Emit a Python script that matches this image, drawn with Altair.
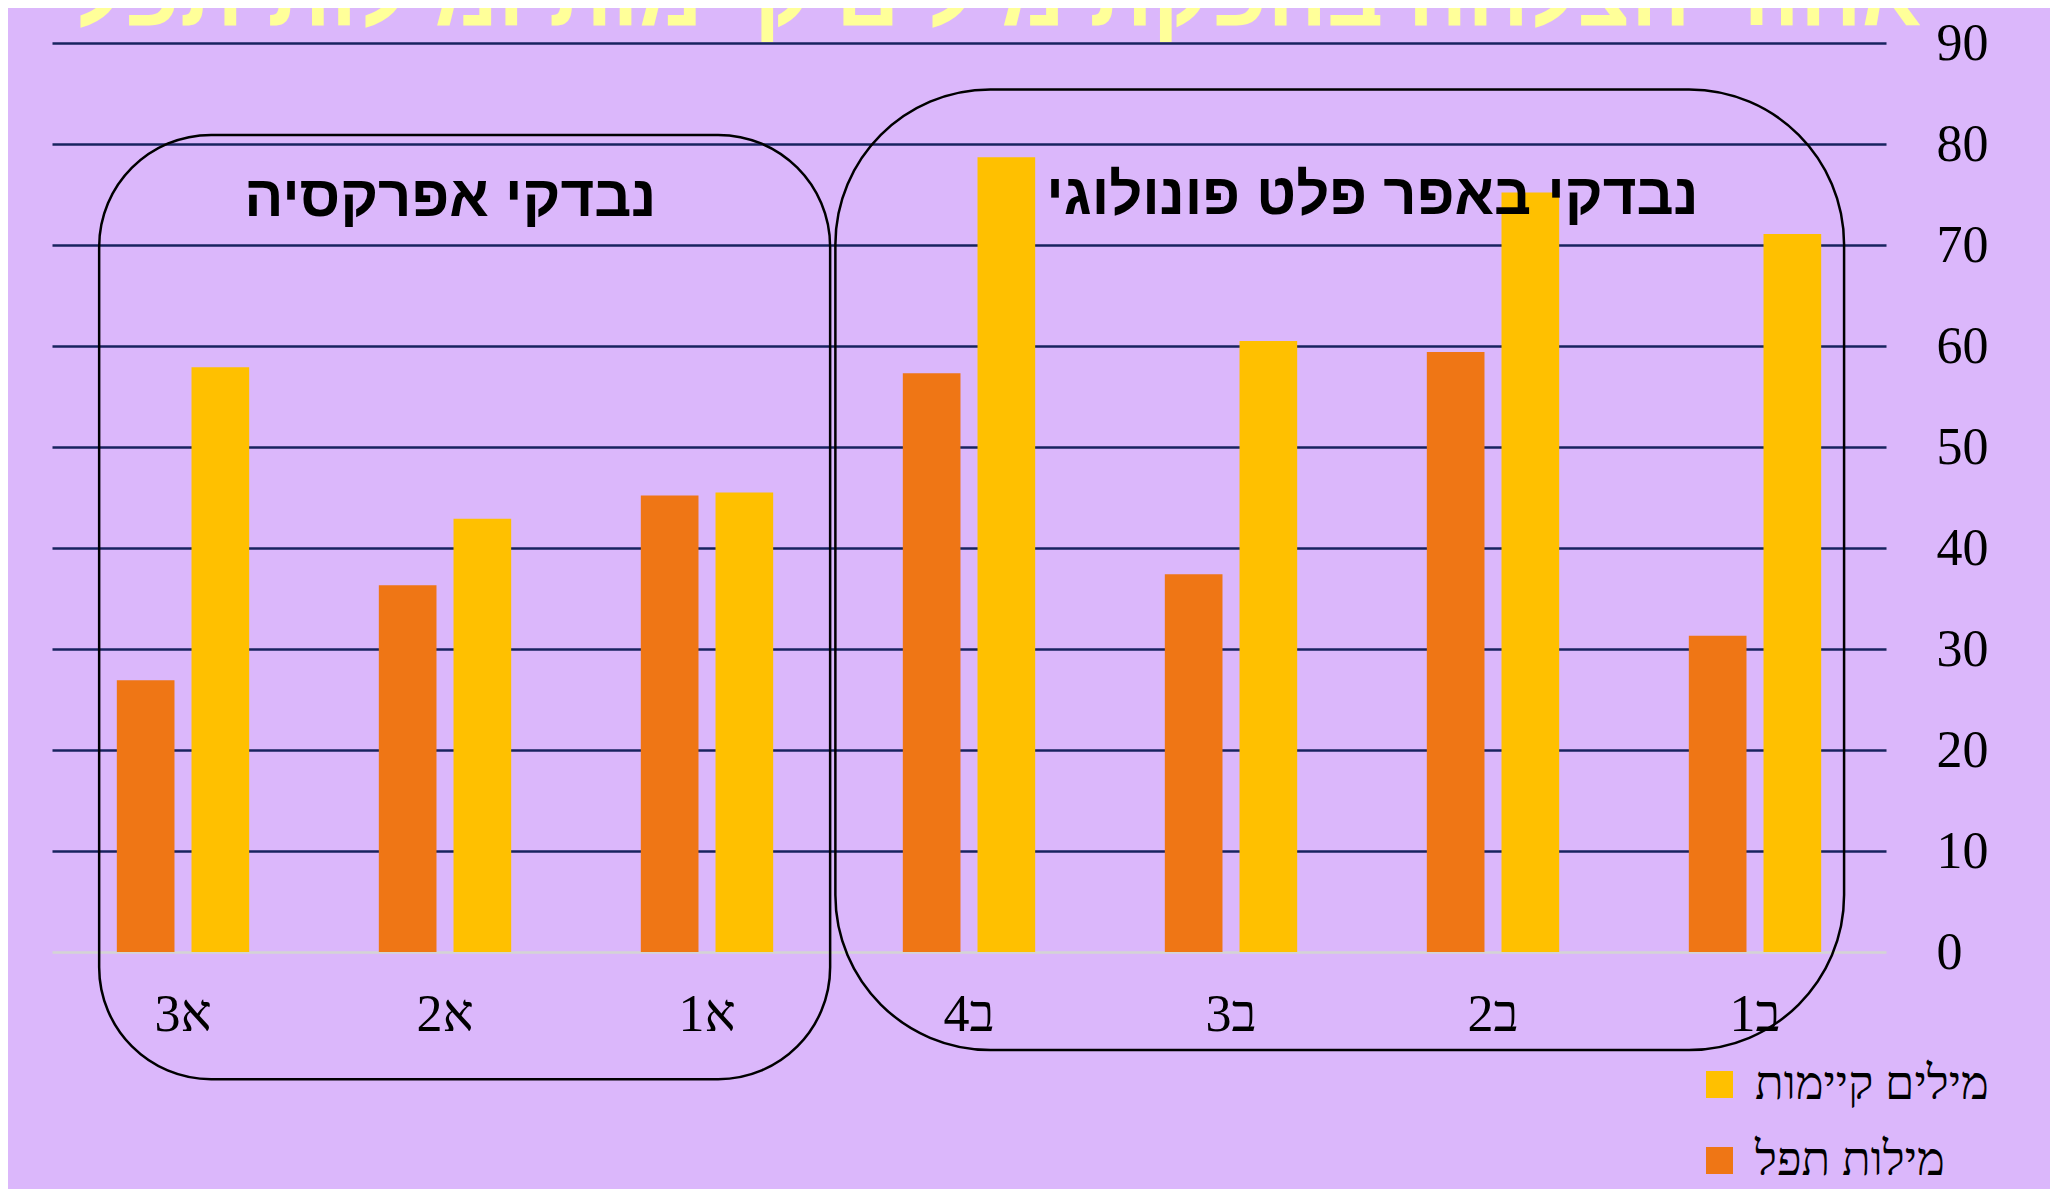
import altair as alt
import pandas as pd

# ---- data ----
categories = ["א3", "א2", "א1", "ב4", "ב3", "ב2", "ב1"]
series_real = "מילים קיימות"
series_nonce = "מילות תפל"
values_nonce = [26.9, 36.3, 45.2, 57.3, 37.4, 59.4, 31.3]
values_real = [57.9, 42.9, 45.5, 78.7, 60.5, 75.2, 71.1]
y_ticks = [0, 10, 20, 30, 40, 50, 60, 70, 80, 90]

title_text = "אחוזי הצלחה בהפקת מילים קיימות ומילות תפל"

# group boxes (x in category units 0..7, y in value units)
box_names = ["נבדקי אפרקסיה", "נבדקי באפר פלט פונולוגי"]
box_x0 = [0.18, 2.99]
box_x1 = [2.97, 6.84]
box_y0 = [80.9, 85.4]
box_y1 = [-12.6, -9.7]
label_x = [1.52, 5.04]
label_y = [72.9, 73.1]

BG = "#DBB7FB"
ORANGE = "#EF7615"
YELLOW = "#FFC000"
GRID = "#18235F"

rows = []
for c, vn, vr in zip(categories, values_nonce, values_real):
    rows.append({"cat": c, "series": series_nonce, "value": vn})
    rows.append({"cat": c, "series": series_real, "value": vr})
bars_df = pd.DataFrame(rows)

boxes_df = pd.DataFrame({"name": box_names, "x0": box_x0, "x1": box_x1,
                         "y0": box_y0, "y1": box_y1})
labels_df = pd.DataFrame({"name": box_names, "lx": label_x, "ly": label_y})
title_df = pd.DataFrame({"t": [title_text]})

qx = alt.Scale(domain=[0, 7], nice=False, zero=False)


def ysc():
    return alt.Scale(domain=[0, 90], nice=False, zero=True)


bars = alt.Chart(bars_df).mark_bar().encode(
    x=alt.X("cat:N", sort=categories,
            scale=alt.Scale(paddingInner=0, paddingOuter=0),
            axis=alt.Axis(title=None, labelAngle=0, ticks=False, domain=False,
                          labelFont="Liberation Serif", labelFontSize=52,
                          labelColor="black", labelPadding=62,
                          labelBaseline="middle")),
    xOffset=alt.XOffset("series:N", sort=[series_nonce, series_real],
                        scale=alt.Scale(paddingInner=0.228, paddingOuter=0.868)),
    y=alt.Y("value:Q", scale=ysc(),
            axis=alt.Axis(title=None, orient="right", values=y_ticks,
                          ticks=False, domain=False, grid=True,
                          gridColor={"condition": {"test": "datum.value === 0", "value": "#D4D4D4"},
                                     "value": GRID},
                          gridWidth=2.5, gridOpacity=1,
                          labelFont="Liberation Serif", labelFontSize=52,
                          labelColor="black", labelAlign="left",
                          labelBaseline="middle", labelPadding=50)),
    color=alt.Color("series:N",
                    scale=alt.Scale(domain=[series_real, series_nonce],
                                    range=[YELLOW, ORANGE]),
                    legend=alt.Legend(title=None, orient="none",
                                      legendX=1644, legendY=1018,
                                      symbolType="square", symbolSize=729,
                                      symbolStrokeWidth=0,
                                      labelFont="Liberation Serif",
                                      labelFontSize=47, labelColor="black",
                                      labelOffset=12, rowPadding=28,
                                      labelLimit=500, padding=0)),
)

box_a = alt.Chart(boxes_df).transform_filter(
    alt.datum.name == box_names[0]).mark_rect(
    fillOpacity=0, stroke="black", strokeWidth=2.5, cornerRadius=112).encode(
    x=alt.X("x0:Q", scale=qx, axis=None), x2="x1:Q",
    y=alt.Y("y0:Q", scale=ysc(), axis=None), y2="y1:Q")

box_b = alt.Chart(boxes_df).transform_filter(
    alt.datum.name == box_names[1]).mark_rect(
    fillOpacity=0, stroke="black", strokeWidth=2.5, cornerRadius=155).encode(
    x=alt.X("x0:Q", scale=qx, axis=None), x2="x1:Q",
    y=alt.Y("y0:Q", scale=ysc(), axis=None), y2="y1:Q")

group_labels = alt.Chart(labels_df).mark_text(
    font="Liberation Sans", fontWeight="bold", fontSize=58, color="black",
    align="center", baseline="alphabetic").encode(
    x=alt.X("lx:Q", scale=qx, axis=None),
    y=alt.Y("ly:Q", scale=ysc(), axis=None),
    text="name:N")

title = alt.Chart(title_df).mark_text(
    font="Liberation Sans", fontWeight="bold", fontSize=88, color="#FFFF99",
    align="center", baseline="alphabetic").encode(
    x=alt.value(945), y=alt.value(-18), text="t:N")

chart = alt.layer(bars, box_a, box_b, group_labels, title).resolve_scale(
    x="independent", y="independent", xOffset="independent", color="independent"
).properties(
    width=1834, height=909,
    autosize=alt.AutoSizeParams(type="none"),
    padding={"left": 44, "top": 35, "right": 164, "bottom": 237},
    background=BG,
).configure_view(strokeWidth=0)

chart.save("out.html", embed_options={"renderer": "svg", "actions": False})
